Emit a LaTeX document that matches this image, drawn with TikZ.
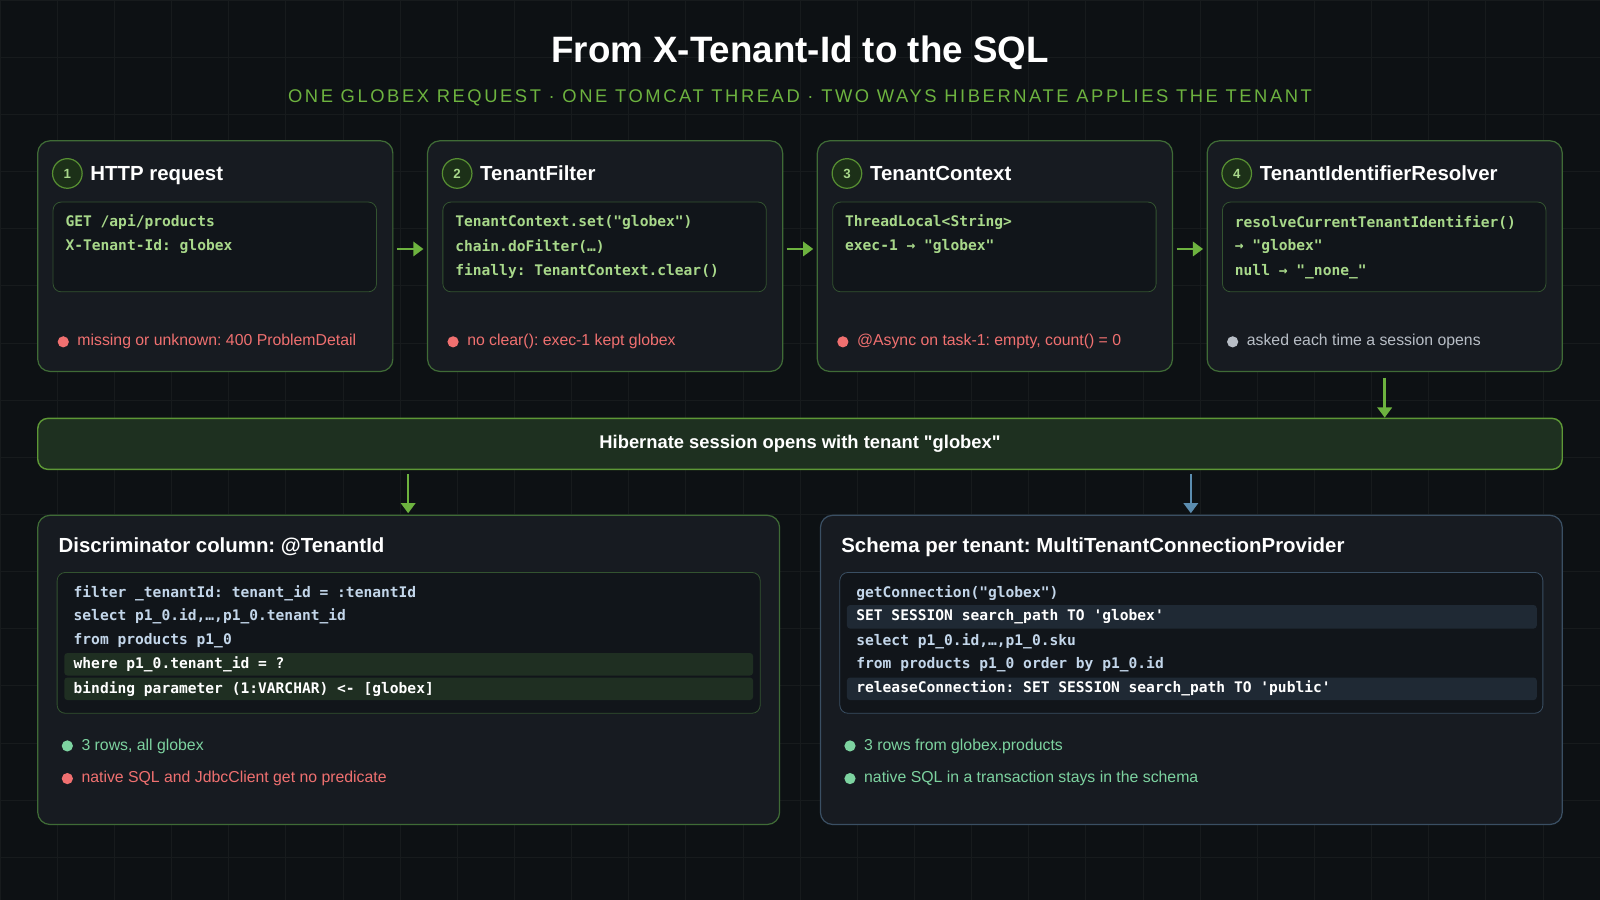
\documentclass[tikz,border=0pt]{standalone}
\usepackage{fontspec}
\setmainfont{Liberation Sans}
\newfontfamily\codefont{DejaVu Sans Mono}
\frenchspacing
\usetikzlibrary{positioning,arrows.meta}
\definecolor{bgdark}{HTML}{0D1114}
\definecolor{cardfill}{HTML}{171B21}
\definecolor{codefill}{HTML}{11151A}
\definecolor{greenline}{HTML}{3F6B36}
\definecolor{greenarrow}{HTML}{6DB33F}
\definecolor{bluearrow}{HTML}{5B8DB0}
\definecolor{blueline}{HTML}{3A4F63}
\definecolor{codegreen}{HTML}{A8D88A}
\definecolor{codeblue}{HTML}{C3D6EA}
\definecolor{badred}{HTML}{F07070}
\definecolor{goodgreen}{HTML}{7DD3A0}
\definecolor{greytext}{HTML}{B8BEC6}
\tikzset{
card/.style = {
    draw=greenline, line width=1.2pt, fill=cardfill,
    rounded corners=12pt
  },
code box/.style = {
    draw=#1, line width=0.8pt, fill=codefill,
    rounded corners=8pt
  },
step num/.style = {
    circle, draw=greenarrow!80!black, fill=greenline!45!black,
    line width=1.2pt, minimum size=29pt, inner sep=0pt,
    text=codegreen, font=\fontsize{13}{13}\selectfont\bfseries
  },
card title/.style = {
    anchor=west, text=white, font=\fontsize{20}{20}\selectfont\bfseries
  },
code line/.style = {
    anchor=west, inner sep=0pt, text=#1,
    font=\codefont\fontsize{14.3}{14.3}\selectfont\bfseries
  },
note/.style = {
    anchor=west, inner sep=0pt, text=#1,
    font=\fontsize{15.5}{15.5}\selectfont
  },
dot/.style = {circle, fill=#1, minimum size=11pt, inner sep=0pt},
flow/.style = {-{Triangle[length=10pt,width=14pt]}, line width=2.6pt, draw=greenarrow}
}
\begin{document}
\begin{tikzpicture}[x=1pt,y=-1pt]
\fill[bgdark] (0,0) rectangle (1568,882);
\useasboundingbox (0,0) rectangle (1568,882);
% faint grid
\foreach \gx in {0,56,...,1568} \draw[white!4!bgdark, line width=0.6pt] (\gx,0) -- (\gx,882);
\foreach \gy in {0,56,...,882} \draw[white!4!bgdark, line width=0.6pt] (0,\gy) -- (1568,\gy);

\node[text=white, font=\fontsize{36}{36}\selectfont\bfseries] (title) at (784,52) {From X-Tenant-Id to the SQL};
\node[text=greenarrow, font=\fontsize{18}{18}\selectfont\addfontfeature{LetterSpace=14}] (subtitle) at (784,96)
  {ONE GLOBEX REQUEST · ONE TOMCAT THREAD · TWO WAYS HIBERNATE APPLIES THE TENANT};

% four steps
\foreach \i/\x/\name/\la/\lb/\lc/\dc/\note in {
  1/37/HTTP request/{GET /api/products}/{X-Tenant-Id: globex}/{}/badred/{missing or unknown: 400 ProblemDetail},
  2/419/TenantFilter/{TenantContext.set("globex")}/{chain.doFilter(…)}/{finally: TenantContext.clear()}/badred/{no clear(): exec-1 kept globex},
  3/801/TenantContext/{ThreadLocal<String>}/{exec-1 → "globex"}/{}/badred/{@Async on task-1: empty, count() = 0},
  4/1183/TenantIdentifierResolver/{resolveCurrentTenantIdentifier()}/{→ "globex"}/{null → "\_none\_"}/greytext/{asked each time a session opens}} {
  \draw[card] (\x,138) rectangle ++(348,226);
  \coordinate (step\i) at (\x,138);
  \node[step num] (num\i) at (\x+29,170) {\i};
  \node[card title, right=4pt of num\i.east, anchor=base west, yshift=-7pt] (head\i) {\name};
  \draw[code box=greenline!70!cardfill] (\x+15,198) rectangle ++(317,88);
  \node[code line=codegreen] (la\i) at (\x+27,218) {\la};
  \node[code line=codegreen] (lb\i) at (\x+27,242) {\lb};
  \node[code line=codegreen] (lc\i) at (\x+27,266) {\lc};
  \node[dot=\dc] (dot\i) at (\x+25,335) {};
  \node[note=\dc, right=8pt of dot\i] {\note};
}
\foreach \x in {389,771,1153}
  \draw[flow] (\x,244) -- ++(26,0);

% session bar
\node[draw=greenarrow!85!black, line width=1.4pt, fill=greenline!35!bgdark, rounded corners=10pt,
      minimum width=1494pt, minimum height=50pt, text=white,
      font=\fontsize{18}{18}\selectfont\bfseries] (session) at (784,435)
  {Hibernate session opens with tenant \textquotedbl globex\textquotedbl};
\draw[flow] (1357,370) -- (session.north -| 1357,0);

\coordinate (leftin) at (400,503);
\coordinate (rightin) at (1167,503);
\draw[flow] (session.south -| leftin) ++(0,4) -- (leftin);
\draw[flow, draw=bluearrow] (session.south -| rightin) ++(0,4) -- (rightin);

% discriminator
\draw[card] (37,505) rectangle (764,808);
\node[card title] (discr) at (54,536) {Discriminator column: @TenantId};
\draw[code box=greenline!70!cardfill] (56,561) rectangle (745,699);
\fill[greenline!30!codefill, rounded corners=3pt] (63,640) rectangle (738,662);
\fill[greenline!30!codefill, rounded corners=3pt] (63,664) rectangle (738,686);
\node[code line=codeblue] at (72,581) {filter \_tenantId: tenant\_id = :tenantId};
\node[code line=codeblue] at (72,604) {select p1\_0.id,…,p1\_0.tenant\_id};
\node[code line=codeblue] at (72,628) {from products p1\_0};
\node[code line=white] at (72,651) {where p1\_0.tenant\_id = ?};
\node[code line=white] at (72,675) {binding parameter (1:VARCHAR) <- [globex]};
\node[dot=goodgreen] (okl) at (66,731) {};
\node[note=goodgreen, right=8pt of okl] {3 rows, all globex};
\node[dot=badred] (badl) at (66,763) {};
\node[note=badred, right=8pt of badl] {native SQL and JdbcClient get no predicate};

% schema per tenant
\draw[card, draw=blueline] (804,505) rectangle (1531,808);
\node[card title] (schema) at (821,536) {Schema per tenant: MultiTenantConnectionProvider};
\draw[code box=blueline] (823,561) rectangle (1512,699);
\fill[blueline!35!codefill, rounded corners=3pt] (830,593) rectangle (1506,616);
\fill[blueline!35!codefill, rounded corners=3pt] (830,664) rectangle (1506,686);
\node[code line=codeblue] at (839,581) {getConnection("globex")};
\node[code line=white] at (839,604) {SET SESSION search\_path TO 'globex'};
\node[code line=codeblue] at (839,628) {select p1\_0.id,…,p1\_0.sku};
\node[code line=codeblue] at (839,651) {from products p1\_0 order by p1\_0.id};
\node[code line=white] at (839,675) {releaseConnection: SET SESSION search\_path TO 'public'};
\node[dot=goodgreen] (okr) at (833,731) {};
\node[note=goodgreen, right=8pt of okr] {3 rows from globex.products};
\node[dot=goodgreen] (ok2r) at (833,763) {};
\node[note=goodgreen, right=8pt of ok2r] {native SQL in a transaction stays in the schema};
\end{tikzpicture}
\end{document}
